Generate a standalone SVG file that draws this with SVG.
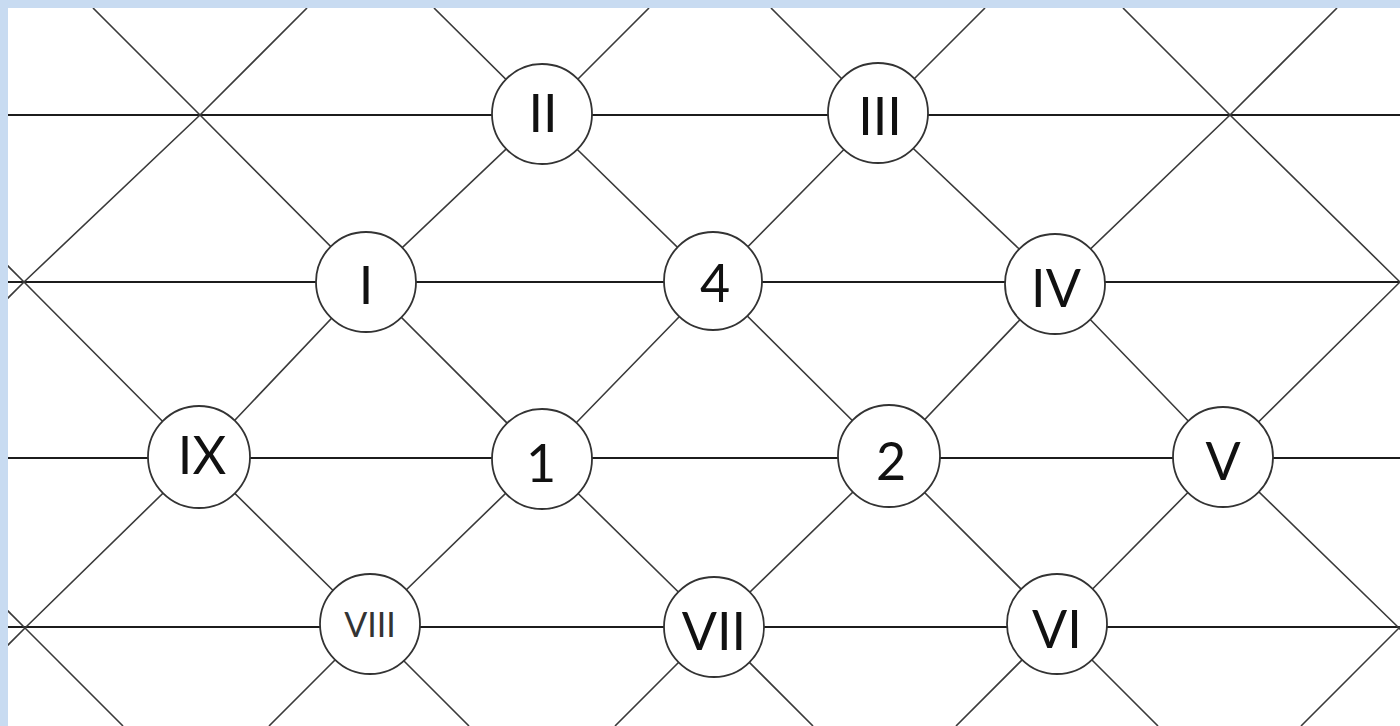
<svg xmlns="http://www.w3.org/2000/svg" width="1400" height="726" viewBox="0 0 1400 726">
<style>
.h{stroke:#1c1c1c;stroke-width:2.2;fill:none}
.d{stroke:#3a3a3a;stroke-width:1.6;fill:none}
.n circle{fill:#ffffff;stroke:#333;stroke-width:1.8}
.n text{font-family:Lato,"Liberation Sans",sans-serif;font-size:52px;fill:#111;text-anchor:middle}
</style>
<defs>
<clipPath id="panel"><rect x="8" y="8" width="1392" height="718"/></clipPath>
</defs>
<rect x="0" y="0" width="1400" height="726" fill="#c8dbf1"/>
<rect x="8" y="8" width="1392" height="718" fill="#ffffff"/>
<g id="connectors" clip-path="url(#panel)">
<line class="h" x1="8" y1="115" x2="1400" y2="115"/>
<line class="h" x1="8" y1="282" x2="1400" y2="282"/>
<line class="h" x1="8" y1="458" x2="1400" y2="458"/>
<line class="h" x1="8" y1="627" x2="1400" y2="627"/>
<polyline class="d" points="93,8 200,115 366,282 542,458 714,627 813,726"/>
<polyline class="d" points="434,8 542,115 713,282 889,457 1057,625 1158,726"/>
<polyline class="d" points="771,8 878,115 1055,283 1223,457 1399,628 1497,726"/>
<polyline class="d" points="1123,8 1230,115 1400,282 1500,382"/>
<polyline class="d" points="-10,248 24,282 199,458 369,626 469,726"/>
<polyline class="d" points="-10,593 25,628 123,726"/>
<polyline class="d" points="307,8 200,115 24,282 -10,316"/>
<polyline class="d" points="649,8 542,115 366,282 199,458 25,628 -10,663"/>
<polyline class="d" points="985,8 878,115 713,282 542,458 369,626 269,726"/>
<polyline class="d" points="1337,8 1230,115 1055,283 889,457 714,627 615,726"/>
<polyline class="d" points="1500,182 1400,282 1223,457 1057,625 956,726"/>
<polyline class="d" points="1500,527 1399,628 1301,726"/>
</g>
<g id="node-II" class="n"><circle cx="542" cy="114" r="50"/><text x="543" y="132">II</text></g>
<g id="node-III" class="n"><circle cx="878" cy="113" r="50"/><text x="880" y="135">III</text></g>
<g id="node-I" class="n"><circle cx="366" cy="282" r="50"/><text x="366" y="304">I</text></g>
<g id="node-4" class="n"><circle cx="713" cy="281" r="49"/><text x="715" y="302">4</text></g>
<g id="node-IV" class="n"><circle cx="1055" cy="284" r="50"/><text x="1056" y="307">IV</text></g>
<g id="node-IX" class="n"><circle cx="199" cy="457" r="51"/><text x="202" y="474">IX</text></g>
<g id="node-1" class="n"><circle cx="542" cy="459" r="50"/><text x="541" y="482">1</text></g>
<g id="node-2" class="n"><circle cx="889" cy="456" r="51"/><text x="891" y="480">2</text></g>
<g id="node-V" class="n"><circle cx="1223" cy="457" r="50"/><text x="1223" y="480">V</text></g>
<g id="node-VIII" class="n"><circle cx="370" cy="624" r="50"/><text x="370" y="637" style="font-size:34px;fill:#333">VIII</text></g>
<g id="node-VII" class="n"><circle cx="714" cy="627" r="50"/><text x="714" y="650">VII</text></g>
<g id="node-VI" class="n"><circle cx="1057" cy="624" r="50"/><text x="1057" y="648">VI</text></g>
</svg>
